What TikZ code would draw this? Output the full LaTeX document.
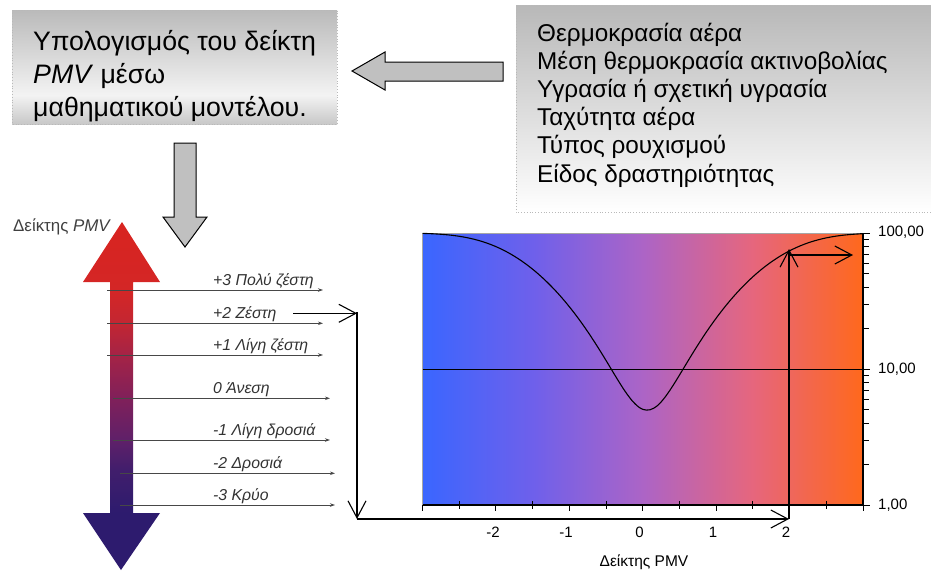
\documentclass[tikz,border=0pt]{standalone}
\usepackage{fontspec}
\setmainfont{Liberation Sans}
\usetikzlibrary{arrows.meta}
\definecolor{thA}{RGB}{45,27,110}
\definecolor{thB}{RGB}{65,30,108}
\definecolor{thC}{RGB}{95,32,105}
\definecolor{thD}{RGB}{128,32,90}
\definecolor{thE}{RGB}{165,35,70}
\definecolor{thF}{RGB}{195,38,50}
\definecolor{thG}{RGB}{212,38,38}
\definecolor{thH}{RGB}{216,36,32}
\definecolor{chA}{RGB}{58,102,255}
\definecolor{chB}{RGB}{110,96,235}
\definecolor{chC}{RGB}{172,100,198}
\definecolor{chD}{RGB}{230,102,125}
\definecolor{chE}{RGB}{255,104,28}
\definecolor{bxT}{RGB}{186,186,186}
\definecolor{bxM}{RGB}{243,243,243}
\definecolor{bxB}{RGB}{200,200,200}
\definecolor{arrgray}{RGB}{192,192,192}
\definecolor{lblgray}{RGB}{50,50,50}
\definecolor{rboxtop}{RGB}{184,184,184}
\pgfdeclareverticalshading{thermo}{100bp}{color(0bp)=(thA); color(33.2bp)=(thA); color(39.4bp)=(thB); color(43.7bp)=(thC); color(49.7bp)=(thD); color(55.9bp)=(thE); color(60.5bp)=(thF); color(65.2bp)=(thG); color(75bp)=(thH); color(100bp)=(thH)}
\pgfdeclarehorizontalshading{chartsh}{100bp}{color(0bp)=(chA); color(25bp)=(chA); color(37.5bp)=(chB); color(50bp)=(chC); color(62.5bp)=(chD); color(75bp)=(chE); color(100bp)=(chE)}
\pgfdeclareverticalshading{boxsh}{100bp}{color(0bp)=(bxB); color(25bp)=(bxB); color(37.7bp)=(bxM); color(75bp)=(bxT); color(100bp)=(bxT)}
\tikzset{
  blockarrow/.style={fill=arrgray, draw=black, line width=1pt, line join=miter},
  bigtxt/.style={anchor=base west, inner sep=0pt, font=\fontsize{26.7}{30}\selectfont},
  listtxt/.style={anchor=base west, inner sep=0pt, font=\fontsize{24.3}{28}\selectfont},
  thlbl/.style={anchor=base west, inner sep=0pt, text=lblgray, font=\fontsize{15.8}{18}\selectfont\itshape},
  thline/.style={draw=lblgray!90, line width=0.9pt, -{Stealth[length=5pt,width=3.5pt]}},
  openarr/.style={draw=black, line width=1.1pt, -{Straight Barb[length=17pt,width=18pt,line width=1.1pt]}},
  axlbl/.style={inner sep=0pt, font=\fontsize{15}{17}\selectfont},
  tick/.style={draw=black, line width=1pt},
  declare function={ppd(\p)=100-95*exp(-0.03353*(\p)*(\p)*(\p)*(\p)-0.2179*(\p)*(\p));}
}
\begin{document}
\begin{tikzpicture}[x=1pt,y=-1pt]
\useasboundingbox (0,0) rectangle (931,571);

% ---- left box
\path[shading=boxsh] (12,10) rectangle (337,124);
\draw[gray!55, dotted, line width=0.8pt] (12,10) rectangle (337,124);
\node[bigtxt] (c1) at (33,50) {Υπολογισμός του δείκτη};
\node[bigtxt] (c2) at (33,83) {\textit{PMV} μέσω};
\node[bigtxt] (c3) at (33,116) {μαθηματικού μοντέλου.};

% ---- right box
\path[top color=rboxtop, bottom color=white] (516,5) rectangle (931,212);
\draw[gray!55, dotted, line width=0.8pt] (931,5) -- (516,5) -- (516,212) -- (931,212);
\node[listtxt] (v1) at (537,41) {Θερμοκρασία αέρα};
\node[listtxt] (v2) at (537,69.5) {Μέση θερμοκρασία ακτινοβολίας};
\node[listtxt] (v3) at (537,97.5) {Υγρασία ή σχετική υγρασία};
\node[listtxt] (v4) at (537,125.5) {Ταχύτητα αέρα};
\node[listtxt] (v5) at (537,153.5) {Τύπος ρουχισμού};
\node[listtxt] (v6) at (537,182) {Είδος δραστηριότητας};

% ---- block arrows
\draw[blockarrow] (352,71) -- (385,52) -- (385,62) -- (503,62) -- (503,81) -- (385,81) -- (385,90) -- cycle;
\draw[blockarrow] (174,143) -- (196,143) -- (196,217) -- (207,217) -- (185,247) -- (163,217) -- (174,217) -- cycle;

% ---- thermometer arrow
\path[shading=thermo] (122,222) -- (160,282) -- (133,282) -- (133,513) -- (160,513) -- (121,570) -- (83,513) -- (110,513) -- (110,282) -- (83,282) -- cycle;
\node[anchor=base west, inner sep=0pt, text=black!75, font=\fontsize{16.9}{19}\selectfont] (pmvt) at (13,231.5) {Δείκτης \textit{PMV}};

\node[thlbl] (t3) at (213,285.5) {+3 Πολύ ζέστη};
\node[thlbl] (t2) at (213,318.8) {+2 Ζέστη};
\node[thlbl] (t1) at (213,350.5) {+1 Λίγη ζέστη};
\node[thlbl] (t0) at (213,393.8) {0 Άνεση};
\node[thlbl] (tm1) at (213,435.5) {-1 Λίγη δροσιά};
\node[thlbl] (tm2) at (213,468.8) {-2 Δροσιά};
\node[thlbl] (tm3) at (213,500.5) {-3 Κρύο};
\draw[thline] (107,290) -- (323,290);
\draw[thline] (107,323.3) -- (323,323.3);
\draw[thline] (107,355) -- (323,355);
\draw[thline] (113,398.3) -- (330,398.3);
\draw[thline] (113,440) -- (330,440);
\draw[thline] (120,473.3) -- (335,473.3);
\draw[thline] (120,505) -- (335,505);

% ---- chart
\path[shading=chartsh] (422.5,233) rectangle (863,505);
\draw[gray!70, line width=1pt] (422.5,505) -- (422.5,233) -- (863,233);
\draw[black, line width=1pt] (422.5,369) -- (863,369);
\draw[black, line width=1.1pt, line join=round] plot[domain=-3:3, samples=121, smooth] ({642.75+73.4*\x}, {505-136*log10(ppd(\x-0.06))});
\draw[black, line width=1.1pt] (422.5,505) -- (863,505);
\draw[black, line width=1.1pt] (863,233) -- (863,505);
\foreach \i in {0,2,...,12} { \draw[tick] ({422.5+36.71*\i},505) -- ({422.5+36.71*\i},511); }
\foreach \i in {1,3,...,11} { \draw[tick] ({422.5+36.71*\i},501) -- ({422.5+36.71*\i},509); }
\foreach \d in {0,1} { \foreach \k in {2,...,9} { \draw[tick] (863,{505-136*(\d+log10(\k))}) -- ++(6,0); } }
\foreach \yy in {233,369,505} { \draw[tick] (860,\yy) -- (870,\yy); }
\node[axlbl, anchor=west] (y100) at (878,232) {100,00};
\node[axlbl, anchor=west] (y10) at (878,369) {10,00};
\node[axlbl, anchor=west] (y1) at (878,505) {1,00};
\node[axlbl] (xm2) at (493,532) {-2};
\node[axlbl] (xm1) at (566,532) {-1};
\node[axlbl] (x0) at (639.5,532) {0};
\node[axlbl] (x1) at (713,532) {1};
\node[axlbl] (x2) at (786,532) {2};
\node[axlbl, font=\fontsize{15.5}{17}\selectfont] (xt) at (644,562) {Δείκτης PMV};

% ---- path of arrows
\coordinate (b0) at (293,313.3);
\coordinate (b1) at (357,313.3);
\coordinate (b1s) at (357,312);
\coordinate (b2) at (357,519);
\coordinate (b3) at (789,519);
\coordinate (b4) at (789,249);
\coordinate (b5) at (789,255);
\coordinate (b6) at (853,255);
\draw[openarr] (b0) -- (b1);
\draw[openarr] (b1s) -- (b2);
\draw[openarr] (b2) -- (b3);
\draw[openarr] (b3) -- (b4);
\draw[openarr] (b5) -- (b6);
\end{tikzpicture}
\end{document}
